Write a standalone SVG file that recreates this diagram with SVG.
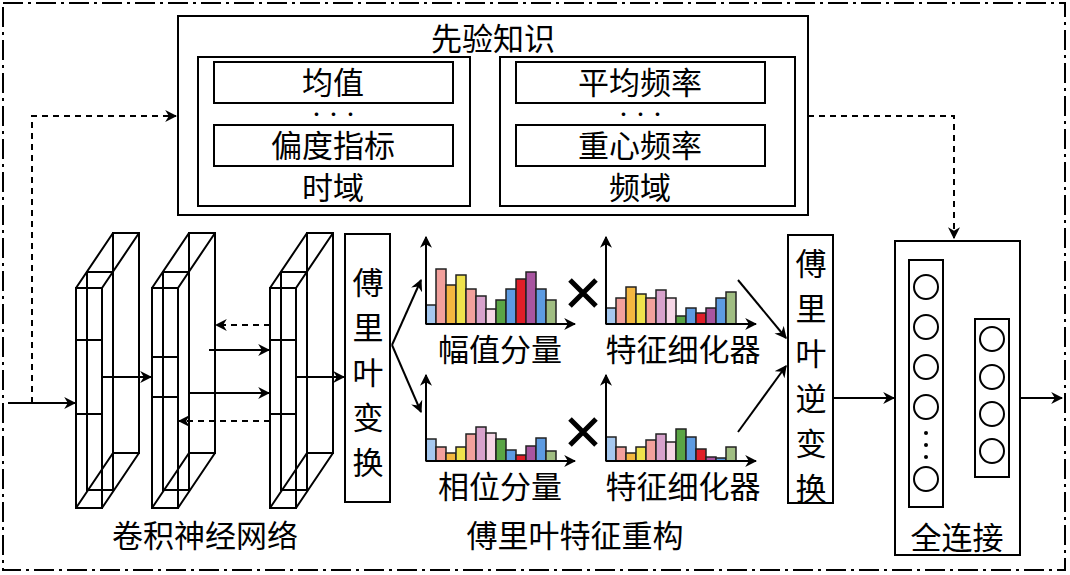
<svg xmlns="http://www.w3.org/2000/svg" width="1070" height="575" viewBox="0 0 1070 575">
<defs>
<marker id="ah" viewBox="0 0 10 10" refX="9" refY="5" markerWidth="12" markerHeight="12" markerUnits="userSpaceOnUse" orient="auto"><path d="M0,0 L10,5 L0,10 L3,5 Z" fill="#000"/></marker>
<style>
.s{fill:none;stroke:#000;stroke-width:2}
.b{fill:#fff;stroke:#000;stroke-width:2}
.t{font-family:"Noto Sans CJK SC","Liberation Serif",serif;fill:#000;text-anchor:middle}
.l{font-size:31px}
.m{font-size:14px;letter-spacing:3px;font-weight:bold}
.bar rect{stroke:#222;stroke-width:1.5}
.c1{fill:#a6c8ef}.c2{fill:#f2a09c}.c3{fill:#f4b740}.c4{fill:#efe24c}.c5{fill:#d7a2cc}.c6{fill:#f6d6e6}.c7{fill:#5aa545}.c8{fill:#5d9be2}.c9{fill:#e01e28}.c10{fill:#a855a0}.c11{fill:#a0bd82}
.d{stroke-dasharray:6,5}
</style>
</defs>
<rect x="3" y="3" width="1062" height="567" fill="none" stroke="#000" stroke-width="2" stroke-dasharray="20,5,3,5"/>

<g id="connectors" class="s">
<path d="M32,403 V116 H176" class="s d" marker-end="url(#ah)"/>
<path d="M808,116 H954 V238" class="s d" marker-end="url(#ah)"/>
<path d="M8,403 H75" marker-end="url(#ah)"/>
<path d="M102,377 H151" marker-end="url(#ah)"/>
<path d="M209,350 H269" marker-end="url(#ah)"/>
<path d="M190,393 H269" marker-end="url(#ah)"/>
<path d="M270,325 H216" class="s d" marker-end="url(#ah)"/>
<path d="M270,421 H179" class="s d" marker-end="url(#ah)"/>
<path d="M296,377 H344" marker-end="url(#ah)"/>
<path d="M392,345 L421,280" marker-end="url(#ah)"/>
<path d="M392,345 L421,412" marker-end="url(#ah)"/>
<path d="M738,280 L786,338" marker-end="url(#ah)"/>
<path d="M738,432 L786,366" marker-end="url(#ah)"/>
<path d="M834,398 H894" marker-end="url(#ah)"/>
<path d="M943,398 H974" marker-end="url(#ah)"/>
<path d="M1020,398 H1062" marker-end="url(#ah)"/>
</g>

<g id="prior">
<rect x="178" y="16" width="630" height="199" class="b"/>
<text x="493" y="50" class="t l">先验知识</text>
<rect x="198" y="57" width="272" height="149" class="b"/>
<rect x="214" y="62" width="239" height="41" class="b"/>
<text x="333" y="94" class="t l">均值</text>
<text x="335" y="119" class="t m">···</text>
<rect x="214" y="125" width="239" height="41" class="b"/>
<text x="333" y="157" class="t l">偏度指标</text>
<text x="333" y="199" class="t l">时域</text>
<rect x="500" y="57" width="295" height="149" class="b"/>
<rect x="516" y="62" width="249" height="41" class="b"/>
<text x="640" y="94" class="t l">平均频率</text>
<text x="642" y="119" class="t m">···</text>
<rect x="516" y="125" width="249" height="41" class="b"/>
<text x="640" y="157" class="t l">重心频率</text>
<text x="640" y="199" class="t l">频域</text>
</g>

<g id="cnn" class="s">
<g id="block1" transform="translate(76,0)">
<rect x="0" y="288" width="26" height="220"/><rect x="37" y="233" width="26" height="220"/><rect x="11" y="272" width="26" height="218"/>
<path d="M0,288 L37,233 M26,288 L63,233 M0,508 L37,453 M26,508 L63,453 M0,340 H26 M0,414 H26"/>
</g>
<g id="block2" transform="translate(152,0)">
<rect x="0" y="288" width="26" height="220"/><rect x="37" y="233" width="26" height="220"/><rect x="11" y="272" width="26" height="218"/>
<path d="M0,288 L37,233 M26,288 L63,233 M0,508 L37,453 M26,508 L63,453 M0,357 H26 M0,397 H26"/>
</g>
<g id="block3" transform="translate(270,0)">
<rect x="0" y="288" width="26" height="220"/><rect x="37" y="233" width="26" height="220"/><rect x="11" y="272" width="26" height="218"/>
<path d="M0,288 L37,233 M26,288 L63,233 M0,508 L37,453 M26,508 L63,453 M0,340 H26 M0,414 H26"/>
</g>
</g>
<text x="205" y="547" class="t l">卷积神经网络</text>

<g id="fft">
<rect x="345" y="234" width="45" height="268" class="b"/>
<g class="t l"><text x="368" y="294">傅</text><text x="368" y="339">里</text><text x="368" y="384">叶</text><text x="368" y="429">变</text><text x="368" y="474">换</text></g>
</g>

<g id="amp" class="bar">
<rect class="c1" x="426" y="305" width="10" height="19"/><rect class="c2" x="436" y="269" width="10" height="55"/><rect class="c3" x="446" y="285" width="10" height="39"/><rect class="c4" x="456" y="275" width="10" height="49"/><rect class="c2" x="466" y="289" width="10" height="35"/><rect class="c5" x="476" y="296" width="10" height="28"/><rect class="c6" x="486" y="309" width="10" height="15"/><rect class="c7" x="496" y="300" width="10" height="24"/><rect class="c8" x="506" y="289" width="10" height="35"/><rect class="c9" x="516" y="279" width="10" height="45"/><rect class="c10" x="526" y="272" width="10" height="52"/><rect class="c8" x="536" y="289" width="10" height="35"/><rect class="c11" x="546" y="300" width="10" height="24"/>
<path d="M426,324 H575" class="s" marker-end="url(#ah)"/>
<path d="M426,324 V237" class="s" marker-end="url(#ah)"/>
</g>
<text x="500" y="361" class="t l">幅值分量</text>

<g id="amp-refiner" class="bar">
<rect class="c1" x="606" y="308" width="10" height="16"/><rect class="c2" x="616" y="298" width="10" height="26"/><rect class="c3" x="626" y="287" width="10" height="37"/><rect class="c4" x="636" y="294" width="10" height="30"/><rect class="c2" x="646" y="298" width="10" height="26"/><rect class="c5" x="656" y="290" width="10" height="34"/><rect class="c6" x="666" y="298" width="10" height="26"/><rect class="c7" x="676" y="316" width="10" height="8"/><rect class="c8" x="686" y="308" width="10" height="16"/><rect class="c9" x="696" y="313" width="10" height="11"/><rect class="c10" x="706" y="308" width="10" height="16"/><rect class="c8" x="716" y="298" width="10" height="26"/><rect class="c11" x="726" y="292" width="10" height="32"/>
<path d="M606,324 H756" class="s" marker-end="url(#ah)"/>
<path d="M606,324 V237" class="s" marker-end="url(#ah)"/>
</g>
<text x="683" y="361" class="t l">特征细化器</text>

<g id="phase" class="bar">
<rect class="c1" x="426" y="439" width="10" height="22"/><rect class="c2" x="436" y="447" width="10" height="14"/><rect class="c3" x="446" y="453" width="10" height="8"/><rect class="c4" x="456" y="447" width="10" height="14"/><rect class="c2" x="466" y="434" width="10" height="27"/><rect class="c5" x="476" y="427" width="10" height="34"/><rect class="c6" x="486" y="433" width="10" height="28"/><rect class="c7" x="496" y="439" width="10" height="22"/><rect class="c8" x="506" y="450" width="10" height="11"/><rect class="c9" x="516" y="455" width="10" height="6"/><rect class="c10" x="526" y="446" width="10" height="15"/><rect class="c8" x="536" y="438" width="10" height="23"/><rect class="c11" x="546" y="451" width="10" height="10"/>
<path d="M426,461 H575" class="s" marker-end="url(#ah)"/>
<path d="M426,461 V375" class="s" marker-end="url(#ah)"/>
</g>
<text x="500" y="498" class="t l">相位分量</text>

<g id="phase-refiner" class="bar">
<rect class="c1" x="606" y="437" width="10" height="24"/><rect class="c2" x="616" y="447" width="10" height="14"/><rect class="c3" x="626" y="453" width="10" height="8"/><rect class="c4" x="636" y="447" width="10" height="14"/><rect class="c2" x="646" y="440" width="10" height="21"/><rect class="c5" x="656" y="434" width="10" height="27"/><rect class="c6" x="666" y="442" width="10" height="19"/><rect class="c7" x="676" y="429" width="10" height="32"/><rect class="c8" x="686" y="437" width="10" height="24"/><rect class="c9" x="696" y="449" width="10" height="12"/><rect class="c10" x="706" y="457" width="10" height="4"/><rect class="c8" x="716" y="458" width="10" height="3"/><rect class="c11" x="726" y="447" width="10" height="14"/>
<path d="M606,461 H756" class="s" marker-end="url(#ah)"/>
<path d="M606,461 V375" class="s" marker-end="url(#ah)"/>
</g>
<text x="683" y="498" class="t l">特征细化器</text>

<g id="mult" stroke="#000" stroke-width="5">
<path d="M570,280 L596,306 M596,280 L570,306"/>
<path d="M570,419 L596,445 M596,419 L570,445"/>
</g>
<text x="575" y="547" class="t l">傅里叶特征重构</text>

<g id="ifft">
<rect x="788" y="235" width="45" height="268" class="b"/>
<g class="t l"><text x="811" y="275">傅</text><text x="811" y="320">里</text><text x="811" y="365">叶</text><text x="811" y="410">逆</text><text x="811" y="455">变</text><text x="811" y="500">换</text></g>
</g>

<g id="fc">
<rect x="895" y="241" width="125" height="314" class="b"/>
<rect x="909" y="260" width="34" height="247" class="b"/>
<g class="s"><circle cx="926" cy="287" r="12"/><circle cx="926" cy="327" r="12"/><circle cx="926" cy="367" r="12"/><circle cx="926" cy="407" r="12"/><circle cx="926" cy="479" r="12"/></g>
<g fill="#000"><circle cx="926" cy="433" r="2"/><circle cx="926" cy="445" r="2"/><circle cx="926" cy="457" r="2"/></g>
<rect x="975" y="319" width="34" height="158" class="b"/>
<g class="s"><circle cx="992" cy="339" r="12"/><circle cx="992" cy="377" r="12"/><circle cx="992" cy="414" r="12"/><circle cx="992" cy="451" r="12"/></g>
<text x="957" y="549" class="t l">全连接</text>
</g>
</svg>
